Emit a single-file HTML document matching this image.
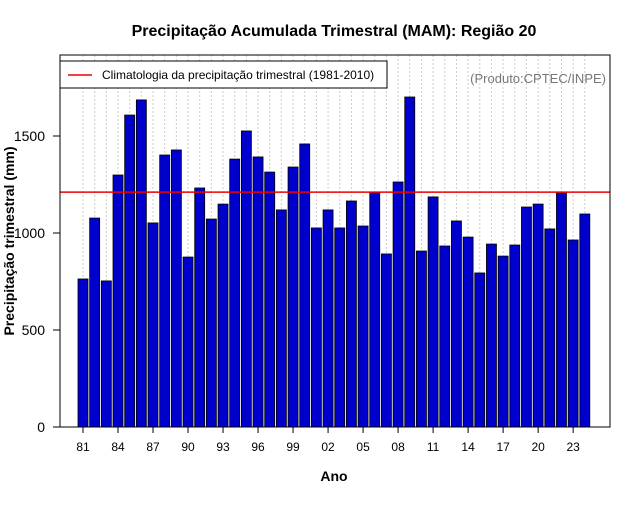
<!DOCTYPE html>
<html><head><meta charset="utf-8"><style>
body{margin:0;background:#fff;font-family:"Liberation Sans",sans-serif}
</style></head><body>
<svg id="c" width="640" height="500" xmlns="http://www.w3.org/2000/svg">
<text x="334" y="36" text-anchor="middle" font-size="16" font-weight="bold">Precipitação Acumulada Trimestral (MAM): Região 20</text>
<text x="334" y="481" text-anchor="middle" font-size="14" font-weight="bold">Ano</text>
<text transform="translate(14,241) rotate(-90)" text-anchor="middle" font-size="14" font-weight="bold">Precipitação trimestral (mm)</text>
<g id="grid"></g><g id="bars"></g><g id="axes"></g>
<rect x="60" y="55" width="550" height="372" fill="none" stroke="#000"/>
<g>
<rect x="60" y="61" width="327" height="27" fill="#fff" stroke="#000"/>
<line x1="68" y1="75" x2="92" y2="75" stroke="#e00" stroke-width="1.5"/>
<text x="102" y="79" font-size="12">Climatologia da precipitação trimestral (1981-2010)</text>
</g>
<text x="606" y="83" text-anchor="end" font-size="13" fill="#777">(Produto:CPTEC/INPE)</text>
</svg>
<script>
const years=[1981,1982,1983,1984,1985,1986,1987,1988,1989,1990,1991,1992,1993,1994,1995,1996,1997,1998,1999,2000,2001,2002,2003,2004,2005,2006,2007,2008,2009,2010,2011,2012,2013,2014,2015,2016,2017,2018,2019,2020,2021,2022,2023,2024];
const values=[763,1077,753,1299,1608,1686,1052,1402,1428,876,1232,1072,1149,1381,1526,1392,1314,1119,1340,1459,1026,1119,1026,1165,1036,1211,892,1263,1701,907,1186,933,1062,979,794,943,881,938,1134,1149,1021,1206,964,1098];
const climatology=[1211];
const yTicks=[0,500,1000,1500];
const xTickYears=[1981,1984,1987,1990,1993,1996,1999,2002,2005,2008,2011,2014,2017,2020,2023];
const NS='http://www.w3.org/2000/svg';
const x=y=>83+(y-1981)*11.67;
const yv=v=>427-v*0.194;
function mk(tag,attrs,parent){const e=document.createElementNS(NS,tag);for(const k in attrs)e.setAttribute(k,attrs[k]);document.getElementById(parent).appendChild(e);return e;}
years.forEach(yr=>{
 const g=mk('line',{x1:x(yr),x2:x(yr),y1:55,y2:427,stroke:'#ccc','stroke-dasharray':'2,2'},'grid');
 
 
});
years.forEach((yr,i)=>{
 const b=mk('rect',{x:x(yr)-5,y:yv(values[i]),width:10,height:values[i]*0.194,fill:'#0000cd',stroke:'#000','stroke-width':0.8},'bars');
 
 
});
const cl=mk('line',{x1:60,x2:610,y1:yv(climatology[0]),y2:yv(climatology[0]),stroke:'#e00','stroke-width':1.5},'bars');


yTicks.forEach(t=>{
 const l=mk('line',{x1:53,x2:60,y1:yv(t),y2:yv(t),stroke:'#000'},'axes');
 
 
 const tx=mk('text',{x:45,y:yv(t)+5,'text-anchor':'end','font-size':14},'axes');
 tx.textContent=t;
 
 
});
xTickYears.forEach(t=>{
 const l=mk('line',{x1:x(t),x2:x(t),y1:427,y2:433,stroke:'#000'},'axes');
 
 
 const tx=mk('text',{x:x(t),y:451,'text-anchor':'middle','font-size':12},'axes');
 tx.textContent=String(t%100).padStart(2,'0');
 
 
});
</script>
</body></html>
